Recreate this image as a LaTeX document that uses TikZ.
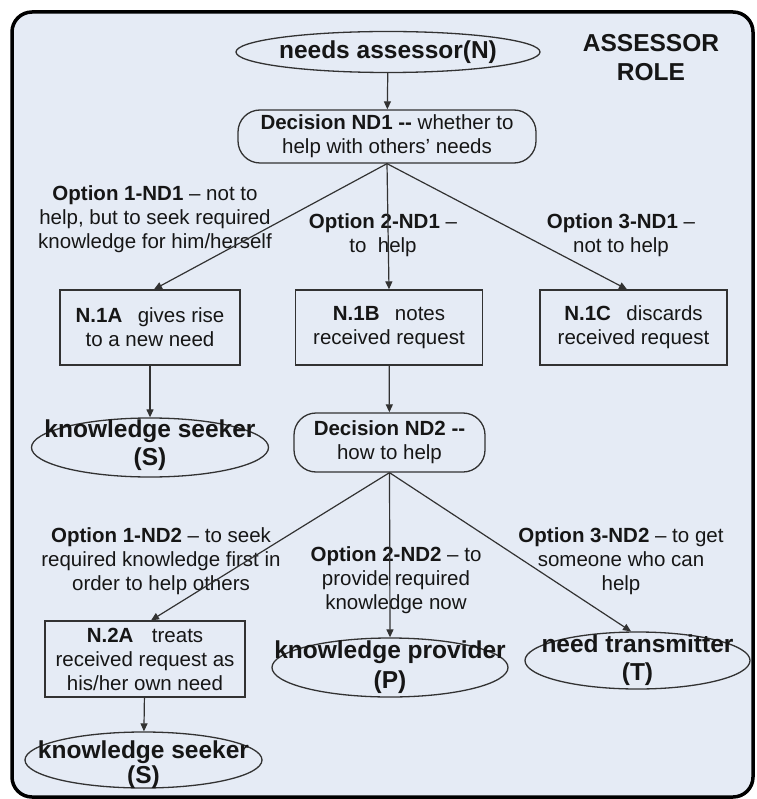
\documentclass[tikz,border=0pt]{standalone}
\usepackage{fontspec}
\setmainfont{Liberation Sans}
\usetikzlibrary{shapes.geometric,arrows.meta}

\definecolor{panel}{RGB}{229,235,245}
\definecolor{edge}{RGB}{50,50,50}
\definecolor{ink}{RGB}{22,22,22}

\begin{document}
\begin{tikzpicture}[x=1pt,y=-1pt,
  txt/.style={font=\fontsize{20.5}{24}\selectfont, align=center, text=ink, inner sep=0pt},
  bigtxt/.style={font=\bfseries\fontsize{24.5}{28}\selectfont, align=center, text=ink, inner sep=0pt},
  stepbox/.style={txt, draw=edge, line width=1.3pt, fill=panel},
  decision/.style={stepbox, rounded corners=22pt},
  oval/.style={ellipse, draw=edge, line width=1.3pt, fill=panel, inner sep=0pt},
  link/.style={draw=edge, line width=1.2pt, -{Triangle[length=8pt,width=7pt]}}
]
\useasboundingbox (0,0) rectangle (756,799);

% outer panel
\draw[line width=3.5pt, rounded corners=20pt, fill=panel] (12,12) rectangle (753,797);

% top of the flow
\node[oval, minimum width=304pt, minimum height=41pt] (N) at (388,52) {};
\node[bigtxt] (Nt) at (N) {needs assessor(N)};
\node[bigtxt, font=\bfseries\fontsize{24.5}{29}\selectfont] (role) at (651,57.5) {ASSESSOR\\ROLE};

\node[decision, minimum width=298pt, minimum height=53pt] (D1) at (387,136.5)
  {\textbf{Decision ND1 -{}-} whether to\\help with others' needs};

% first decision outcomes
\node[stepbox, minimum width=180pt, minimum height=75pt] (A1) at (150,327.5)
  {\textbf{N.1A}\hspace{0.75em}gives rise\\to a new need};
\node[stepbox, minimum width=187pt, minimum height=75pt] (B1) at (389,327.5)
  {\textbf{N.1B}\hspace{0.75em}notes\\received request};
\node[stepbox, minimum width=187pt, minimum height=75pt] (C1) at (633.5,327.5)
  {\textbf{N.1C}\hspace{0.75em}discards\\received request};

\node[txt] (o11) at (155,219) {\textbf{Option 1-ND1} -- not to\\help, but to seek required\\knowledge for him/herself};
\node[txt] (o21) at (383,235) {\textbf{Option 2-ND1} --\\to\ \ help};
\node[txt] (o31) at (621,235) {\textbf{Option 3-ND1} --\\not to help};

\node[oval, minimum width=237pt, minimum height=59pt] (S1) at (150,447.5) {};
\node[bigtxt] (S1t) at (150,445) {knowledge seeker\\(S)};

\node[decision, minimum width=191pt, minimum height=59pt] (D2) at (389.5,442.5)
  {\textbf{Decision ND2 -{}-}\\how to help};

% second decision outcomes
\node[txt] (o12) at (161,561.5) {\textbf{Option 1-ND2} -- to seek\\required knowledge first in\\order to help others};
\node[txt] (o22) at (396,580) {\textbf{Option 2-ND2} -- to\\provide required\\knowledge now};
\node[txt] (o32) at (621,561.5) {\textbf{Option 3-ND2} -- to get\\someone who can\\help};

\node[stepbox, minimum width=200pt, minimum height=76pt] (A2) at (145,659)
  {\textbf{N.2A}\hspace{0.9em}treats\\received request as\\his/her own need};

\node[oval, minimum width=236pt, minimum height=59pt] (P) at (390,667.5) {};
\node[bigtxt, font=\bfseries\fontsize{24.5}{30}\selectfont] (Pt) at (P) {knowledge provider\\(P)};

\node[oval, minimum width=225pt, minimum height=57pt] (T) at (637.5,660.5) {};
\node[bigtxt] (Tt) at (T) {need transmitter\\(T)};

\node[oval, minimum width=237pt, minimum height=56pt] (S2) at (143.5,760) {};
\node[bigtxt, font=\bfseries\fontsize{24.5}{25}\selectfont] (S2t) at (143.5,765) {knowledge seeker\\(S)};

% connectors
\draw[link] (N) -- (D1);
\draw[link] (D1.south) -- ([xshift=4pt]A1.north);
\draw[link] (D1.south) -- (B1.north);
\draw[link] (D1.south) -- ([xshift=-6.5pt]C1.north);
\draw[link] (A1) -- (S1);
\draw[link] (B1) -- (D2);
\draw[link] (D2.south) -- ([xshift=6pt]A2.north);
\draw[link] (D2.south) -- (P.north);
\draw[link] (D2.south) -- ([xshift=-6.5pt]T.north);
\draw[link] (A2) -- (S2);
\end{tikzpicture}
\end{document}
